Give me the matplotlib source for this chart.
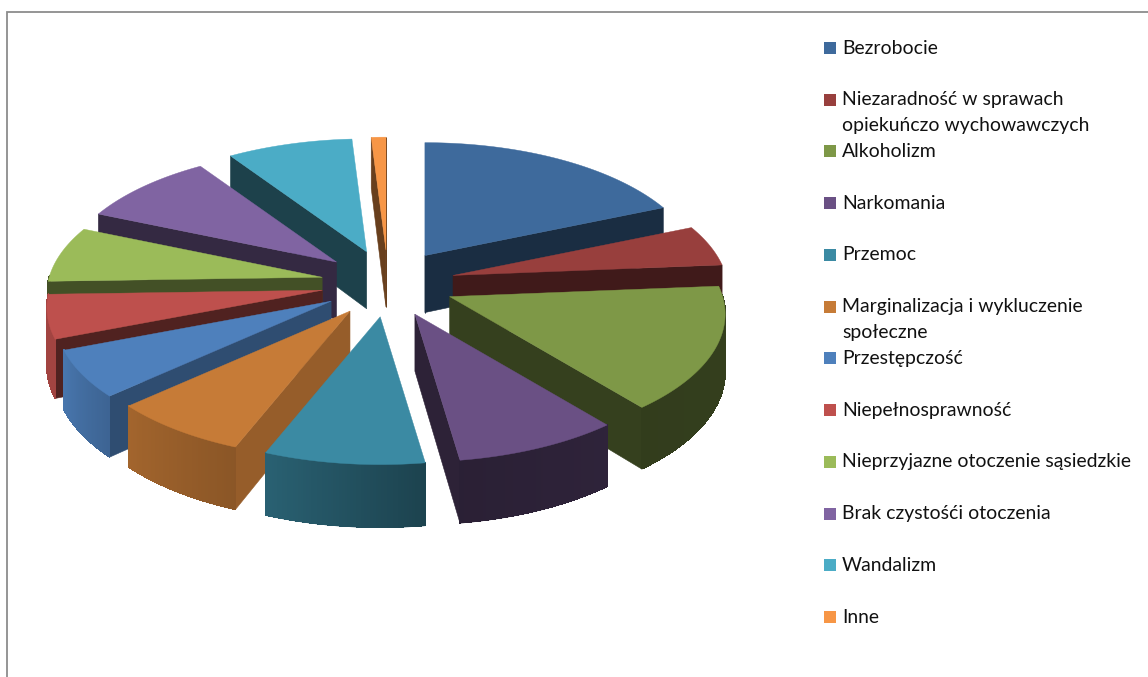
import numpy as np
import matplotlib
matplotlib.use("Agg")
import matplotlib.pyplot as plt
from matplotlib.collections import PolyCollection
from matplotlib.patches import Polygon, Rectangle
from matplotlib.colors import to_rgb

# ---- data (percent shares) ----
labels = ["Bezrobocie", "Niezaradność w sprawach\nopiekuńczo wychowawczych", "Alkoholizm",
          "Narkomania", "Przemoc", "Marginalizacja i wykluczenie\nspołeczne", "Przestępczość",
          "Niepełnosprawność", "Nieprzyjazne otoczenie sąsiedzkie", "Brak czystośći otoczenia",
          "Wandalizm", "Inne"]
values = [18.5, 5.1, 15.4, 8.55, 8.25, 7.2, 5.83, 5.42, 6.94, 9.15, 8.35, 0.97]
colors = ["#3E6A9C", "#983F3D", "#7E9847", "#6A5084", "#3B8AA3", "#C67B37",
          "#4E80BC", "#BE504D", "#9BBB59", "#8064A2", "#4BACC6", "#F79646"]
# shade of the outer rim at slice start / end, and of the cut walls
rim_shade = [(.4, .4), (.85, .85), (.42, .40), (.44, .40), (.48, .70), (.70, .82),
             (.78, .92), (.85, .85), (.43, .43), (.9, .9), (.9, .9), (.9, .9)]
wall_shade = [.42, .42, .42, .42, .5, .76, .6, .42, .43, .41, .38, .42]

# ---- projection ----
CX, CY = 388.0, 283.5
EX, EY = 67.0, 33.5
A, B, K = 273.0, 128.0, 0.134
D0, D1 = 57.0, 6.0


def proj(tx, ty, r, th):
    c, s = np.cos(th), np.sin(th)
    den = 1 + K * r * c
    return tx + A * r * s / den, ty - B * r * c / den


def depth(r, th):
    return D0 - D1 * r * np.cos(th)


def shade(col, f):
    return tuple(min(1, v * f) for v in to_rgb(col))


fig = plt.figure(figsize=(11.48, 6.77), dpi=100)
ax = fig.add_axes([0, 0, 1, 1])
ax.set_xlim(0, 1148)
ax.set_ylim(677, 0)
ax.axis("off")

# chart frame
ax.plot([7, 7, 1148], [677, 11.5, 11.5], color="#8C8C8C", lw=1.3, solid_joinstyle="miter")

vals = np.array(values)
bounds = np.radians(np.concatenate([[0], np.cumsum(vals) / vals.sum() * 360]))
mids = (bounds[:-1] + bounds[1:]) / 2
order = np.argsort(-np.cos(mids))

z = 2
for i in order:
    t0, t1 = bounds[i], bounds[i + 1]
    m = mids[i]
    tx, ty = CX + EX * np.sin(m), CY - EY * np.cos(m)
    col = colors[i]
    n = max(4, int(np.degrees(t1 - t0)) * 2)
    ths = np.linspace(t0, t1, n + 1)
    rx, ry = proj(tx, ty, 1.0, ths)
    drim = depth(1.0, ths)
    dtip = depth(0.0, 0.0)

    # cut walls that face the viewer
    for th, nrm in ((t0, t0 - np.pi / 2), (t1, t1 + np.pi / 2)):
        if np.cos(nrm) < 0.02:
            ex, ey = proj(tx, ty, 1.0, th)
            d = depth(1.0, th)
            ax.add_patch(Polygon([(tx, ty), (ex, ey), (ex, ey + d), (tx, ty + dtip)],
                                 closed=True, fc=shade(col, wall_shade[i]),
                                 ec=shade(col, wall_shade[i]), lw=.4, zorder=z))
    z += 1

    # outer rim, only the front half: an antialiased base band, then flat strips
    front = np.cos(ths) < 0.02
    s0, s1 = rim_shade[i]
    if front.sum() >= 2:
        fx, fy, fd = rx[front], ry[front], drim[front]
        base = list(zip(fx, fy)) + list(zip(fx[::-1], (fy + fd)[::-1]))
        mid_col = shade(col, (s0 + s1) / 2)
        ax.add_patch(Polygon(base, closed=True, fc=mid_col, ec=mid_col, lw=.4, zorder=z))
        z += 1
        polys, fcs = [], []
        for j in range(n):
            if front[j] and front[j + 1]:
                polys.append([(rx[j], ry[j]), (rx[j + 1], ry[j + 1]),
                              (rx[j + 1], ry[j + 1] + drim[j + 1] - .5), (rx[j], ry[j] + drim[j] - .5)])
                fcs.append(shade(col, s0 + (s1 - s0) * (j + .5) / n))
        ax.add_collection(PolyCollection(polys, facecolors=fcs, edgecolors=fcs, linewidths=.6,
                                         antialiaseds=False, zorder=z))
    z += 1

    # top surface
    ax.add_patch(Polygon([(tx, ty)] + list(zip(rx, ry)), closed=True, fc=col, ec=col, lw=.3, zorder=z))
    z += 1

# legend
for i, (lab, col) in enumerate(zip(labels, colors)):
    y = 48.0 + i * 51.73
    ax.add_patch(Rectangle((824, y - 6), 12, 12, fc=col, ec="none", zorder=50))
    for j, line in enumerate(lab.split("\n")):
        ax.text(842, y + j * 26, line, family="Lato", fontsize=13.95, color="#111111",
                va="center", ha="left", zorder=50)

fig.savefig("out.png", dpi=100)
